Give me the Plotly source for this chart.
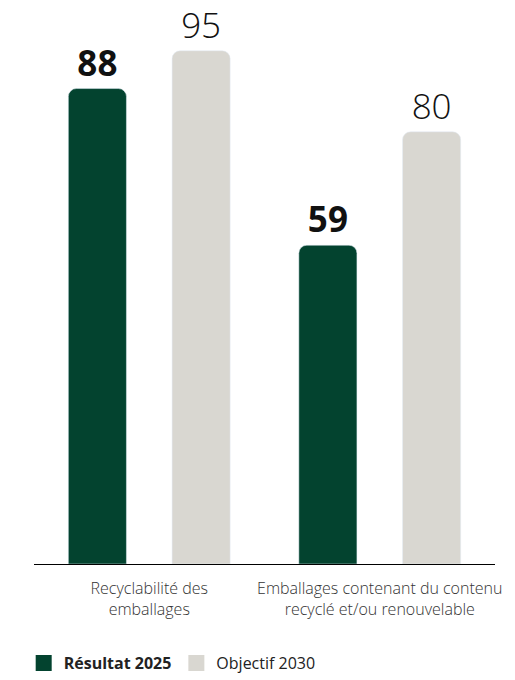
import plotly.graph_objects as go

categories = ["Recyclabilité des<br>emballages",
              "Emballages contenant du contenu<br>recyclé et/ou renouvelable"]
resultat_2025 = [88, 59]
objectif_2030 = [95, 80]
series_names = ["<b>Résultat 2025</b>", "Objectif 2030"]

GREEN = "#03432F"
GREY = "#D9D7D1"

fig = go.Figure()
fig.add_trace(go.Bar(
    x=categories, y=resultat_2025, showlegend=False,
    marker=dict(color=GREEN, cornerradius=8),
    text=[str(v) for v in resultat_2025], textposition="outside",
    textfont=dict(family="Open Sans", size=35, color="#111111", weight=700),
    cliponaxis=False,
))
fig.add_trace(go.Bar(
    x=categories, y=objectif_2030, showlegend=False,
    marker=dict(color=GREY, cornerradius=8),
    text=[str(v) for v in objectif_2030], textposition="outside",
    textfont=dict(family="Open Sans", size=35, color="#111111", weight=300),
    cliponaxis=False,
))

# square swatches for the legend
for name, color in zip(series_names, [GREEN, GREY]):
    fig.add_trace(go.Scatter(
        x=[None], y=[None], mode="markers", name=name,
        marker=dict(symbol="square", size=17, color=color),
    ))

fig.update_layout(
    width=515, height=680,
    margin=dict(l=34, r=20, t=14, b=116),
    paper_bgcolor="white", plot_bgcolor="white",
    barmode="group", bargap=0.10, bargroupgap=0.44,
    font=dict(family="Open Sans", color="#333333", size=16),
    showlegend=True,
    legend=dict(orientation="h", xref="container", x=0.046, xanchor="left",
                yref="container", y=0.0, yanchor="bottom",
                font=dict(size=16, color="#222222"),
                itemwidth=30, traceorder="normal"),
)
fig.update_xaxes(showline=True, linecolor="#000000", linewidth=1,
                 ticks="", showgrid=False, ticklabelstandoff=10,
                 tickfont=dict(family="Open Sans", size=16, color="#333333", weight=300))
fig.update_yaxes(visible=False, range=[0, 101.8], showgrid=False)

fig.write_html("out.html")
